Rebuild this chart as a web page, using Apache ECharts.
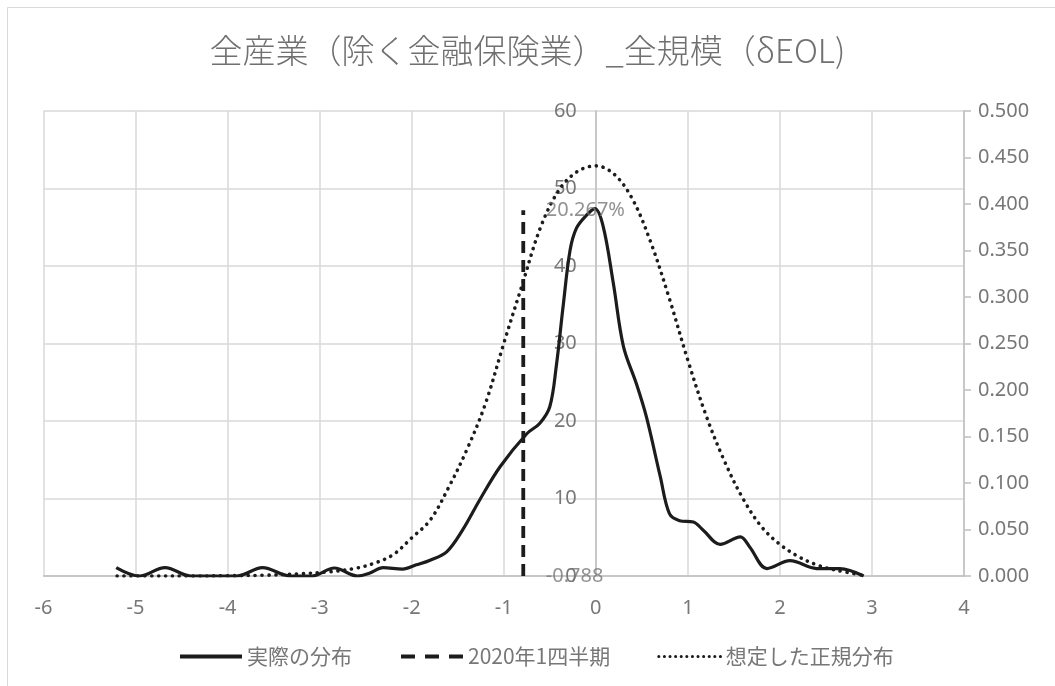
<!DOCTYPE html>
<html>
<head>
<meta charset="utf-8">
<script src="https://cdn.jsdelivr.net/npm/echarts@6/dist/echarts.min.js"></script>
<style>html,body{margin:0;padding:0;background:#fff}#c{width:1055px;height:686px}</style>
</head>
<body>
<div id="c"></div>
<script>
// ---- data ----
const titleText = '全産業（除く金融保険業）_全規模（δEOL)';
const seriesNames = ['実際の分布', '2020年1四半期', '想定した正規分布'];

// actual distribution (x, density) — right axis
const actualX = [-5.21,-4.96,-4.68,-4.40,-4.15,-3.90,-3.62,-3.32,-3.08,-2.84,-2.59,-2.46,-2.31,-2.10,-1.95,-1.80,-1.62,-1.45,-1.26,-1.04,-0.75,-0.61,-0.50,-0.43,-0.355,-0.28,-0.21,-0.10,-0.01,0.08,0.19,0.30,0.44,0.55,0.70,0.80,0.91,1.06,1.17,1.35,1.57,1.67,1.86,2.11,2.40,2.65,2.91];
const actualY = [0.009,0.000,0.009,0.000,0.000,0.000,0.009,0.000,0.000,0.0086,0.000,0.003,0.009,0.0075,0.012,0.017,0.026,0.049,0.082,0.1175,0.153,0.164,0.182,0.225,0.290,0.350,0.374,0.388,0.395,0.376,0.315,0.247,0.207,0.171,0.107,0.067,0.0595,0.058,0.049,0.034,0.042,0.0315,0.008,0.0165,0.008,0.008,0.000];

// assumed normal distribution (x, density) — right axis
const normalX = [-5.2,-4.8,-4.4,-4.0,-3.6,-3.2,-2.9,-2.6,-2.4,-2.2,-2.0,-1.8,-1.6,-1.4,-1.2,-1.0,-0.8,-0.6,-0.4,-0.2,0.0,0.2,0.4,0.6,0.8,1.0,1.2,1.4,1.6,1.8,2.0,2.2,2.4,2.6,2.9];
const normalY = [0.000,0.000,0.000,0.0003,0.0008,0.0025,0.0045,0.0085,0.014,0.023,0.041,0.060,0.095,0.136,0.185,0.250,0.313,0.375,0.415,0.435,0.441,0.432,0.405,0.358,0.298,0.232,0.172,0.123,0.083,0.053,0.034,0.021,0.012,0.0065,0.001];

// 2020 Q1 marker line (x, left-axis value) and its labels
const markerX = [-0.788, -0.788];
const markerY = [0, 47.2];
const markerLabels = ['-0.788', '20.267%'];

// axis ranges / ticks
const xTicks = {min: -6, max: 4, interval: 1};
const leftTicks = {min: 0, max: 60, interval: 10};
const rightTicks = {min: 0, max: 0.5, interval: 0.05};

const zip = (xs, ys) => xs.map((x, i) => [x, ys[i]]);

const W = 1055, H = 686;
const gridL = 43.5, gridR = 91, gridT = 111, gridB = 110;
const gridW = W - gridL - gridR;
// put the left value axis on x = 0, as in the reference
const leftAxisOffset = -gridW * (0 - xTicks.min) / (xTicks.max - xTicks.min);

const gray = '#777777';
const numFont = 'Noto Sans';
const ink = '#1c1c1c';
const solidStyle = {color: ink, width: 3.2};
const dashStyle = {color: ink, width: 3.8, type: [12, 7]};
const dotStyle = {color: ink, width: 3.6, type: [0.1, 6.8], cap: 'round'};

const chart = echarts.init(document.getElementById('c'), null, {renderer: 'canvas'});
chart.setOption({
  backgroundColor: '#fff',
  animation: false,
  title: {
    text: titleText, left: 'center', top: 29,
    textStyle: {fontFamily: 'Noto Sans CJK JP', fontSize: 33, fontWeight: 300, color: '#707070'}
  },
  graphic: [{
    type: 'rect', shape: {x: 7.5, y: 7.5, width: 1060, height: 700},
    style: {fill: 'none', stroke: '#d9d9d9', lineWidth: 1}, silent: true, z: -1
  }],
  legend: {
    top: 641, left: 173, itemWidth: 62, itemHeight: 14, itemGap: 47,
    itemStyle: {opacity: 0},
    textStyle: {fontFamily: 'Noto Sans CJK JP', fontSize: 21, color: gray},
    data: [
      {name: seriesNames[0], lineStyle: {color: ink, width: 4, type: 'solid'}},
      {name: seriesNames[1], lineStyle: {color: ink, width: 4, type: [14, 10], cap: 'butt'}},
      {name: seriesNames[2], lineStyle: {color: ink, width: 3, type: [0.1, 5.5], cap: 'round'}}
    ]
  },
  grid: {left: gridL, right: gridR, top: gridT, bottom: gridB, containLabel: false},
  xAxis: {
    type: 'value', min: xTicks.min, max: xTicks.max, interval: xTicks.interval,
    axisLine: {show: true, onZero: false, lineStyle: {color: '#bfbfbf', width: 1.5}},
    axisTick: {show: false},
    axisLabel: {fontFamily: numFont, fontSize: 20, color: gray, margin: 22},
    splitLine: {show: true, lineStyle: {color: '#d9d9d9', width: 1.5}}
  },
  yAxis: [{
    type: 'value', min: leftTicks.min, max: leftTicks.max, interval: leftTicks.interval,
    position: 'left', offset: leftAxisOffset,
    axisLine: {show: true, onZero: false, lineStyle: {color: '#bfbfbf', width: 1.5}},
    axisTick: {show: false},
    axisLabel: {fontFamily: numFont, fontSize: 20, color: gray, margin: 19},
    splitLine: {show: true, lineStyle: {color: '#d9d9d9', width: 1.5}}
  }, {
    type: 'value', min: rightTicks.min, max: rightTicks.max, interval: rightTicks.interval,
    position: 'right',
    axisLine: {show: true, onZero: false, lineStyle: {color: '#bfbfbf', width: 1.5}},
    axisTick: {show: true, inside: false, length: 7, lineStyle: {color: '#bfbfbf', width: 1.5}},
    axisLabel: {fontFamily: numFont, fontSize: 20, color: gray, margin: 14, formatter: v => v.toFixed(3)},
    splitLine: {show: false}
  }],
  series: [{
    name: seriesNames[0], type: 'line', yAxisIndex: 1, smooth: 0.35, symbol: 'none',
    data: zip(actualX, actualY),
    itemStyle: {color: ink},
    lineStyle: solidStyle, z: 3
  }, {
    name: seriesNames[1], type: 'line', yAxisIndex: 0, symbol: 'none',
    data: zip(markerX, markerY),
    itemStyle: {color: ink},
    lineStyle: dashStyle, z: 3
  }, {
    name: seriesNames[2], type: 'line', yAxisIndex: 1, smooth: 0.35, symbol: 'none',
    data: zip(normalX, normalY),
    itemStyle: {color: ink},
    lineStyle: dotStyle, z: 3
  }, {
    name: 'marker-labels', type: 'scatter', yAxisIndex: 0, symbolSize: 1,
    itemStyle: {color: 'rgba(0,0,0,0)'}, silent: true, z: 4,
    data: zip(markerX, markerY).map((p, i) => ({
      value: p,
      label: {show: true, position: 'right', distance: 22, formatter: markerLabels[i],
              fontFamily: numFont, fontSize: 20, color: gray}
    }))
  }]
});
</script>
</body>
</html>
